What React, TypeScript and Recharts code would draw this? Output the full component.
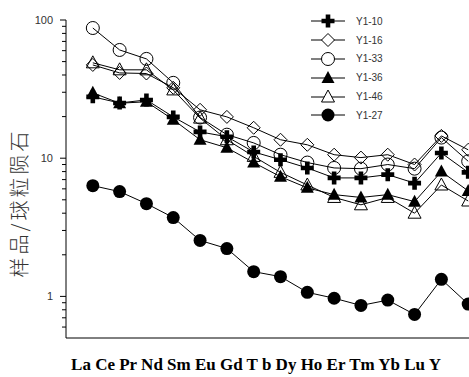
import { LineChart, Line, XAxis, YAxis, Legend, Label } from "recharts";

// chondrite-normalised REE values
const ELEMENTS = ["La", "Ce", "Pr", "Nd", "Sm", "Eu", "Gd", "T b", "Dy", "Ho", "Er", "Tm", "Yb", "Lu", "Y"];
const Y1_10 = [27.8, 25.1, 26.4, 19.9, 15.5, 14.3, 11.1, 9.75, 8.5, 7.2, 7.2, 7.6, 6.6, 10.9, 7.9];
const Y1_16 = [47.3, 41.4, 41.0, 32.3, 22.4, 19.9, 16.6, 13.6, 12.5, 10.6, 10.1, 10.6, 9.0, 14.5, 11.5];
const Y1_33 = [87.5, 60.7, 52.3, 35.1, 19.7, 14.8, 12.9, 10.6, 9.3, 8.5, 8.4, 9.0, 8.4, 14.1, 9.5];
const Y1_36 = [29.7, 25.0, 25.6, 19.0, 13.6, 11.9, 9.3, 7.35, 6.1, 5.45, 5.2, 5.45, 4.85, 8.0, 5.8];
const Y1_46 = [49.0, 43.6, 43.6, 31.2, 19.5, 13.6, 10.3, 7.9, 6.4, 5.2, 4.6, 5.2, 4.0, 6.4, 4.9];
const Y1_27 = [6.33, 5.73, 4.69, 3.72, 2.54, 2.22, 1.51, 1.39, 1.07, 0.97, 0.86, 0.94, 0.74, 1.33, 0.88];

const MAJOR = [1, 10, 100];
const MINOR = [0.6, 0.7, 0.8, 0.9, 2, 3, 4, 5, 6, 7, 8, 9, 20, 30, 40, 50, 60, 70, 80, 90];

type Kind = "plus" | "diamond" | "circle" | "tri" | "openTri" | "dot";

const SERIES: { key: string; name: string; kind: Kind; values: number[] }[] = [
  { key: "y110", name: "Y1-10", kind: "plus", values: Y1_10 },
  { key: "y116", name: "Y1-16", kind: "diamond", values: Y1_16 },
  { key: "y133", name: "Y1-33", kind: "circle", values: Y1_33 },
  { key: "y136", name: "Y1-36", kind: "tri", values: Y1_36 },
  { key: "y146", name: "Y1-46", kind: "openTri", values: Y1_46 },
  { key: "y127", name: "Y1-27", kind: "dot", values: Y1_27 },
];

const rows = ELEMENTS.map((el, i) => {
  const row: Record<string, number | string> = { x: i + 1, el };
  SERIES.forEach((s) => (row[s.key] = s.values[i]));
  return row;
});

const xTicks = [0, ...ELEMENTS.map((_, i) => i + 1)];
const yTicks = [...MINOR, ...MAJOR].sort((a, b) => a - b);

function Marker({ cx, cy, kind, fill = "none" }: { cx: number; cy: number; kind: Kind; fill?: string }) {
  const r = 6.5;
  switch (kind) {
    case "plus": {
      const a = 2.3;
      return (
        <path
          d={`M${cx - a},${cy - r}h${2 * a}v${r - a}h${r - a}v${2 * a}h${a - r}v${r - a}h${-2 * a}v${a - r}h${a - r}v${-2 * a}h${r - a}z`}
          fill="#000"
        />
      );
    }
    case "diamond":
      return <path d={`M${cx},${cy - r}L${cx + r},${cy}L${cx},${cy + r}L${cx - r},${cy}Z`} fill={fill} stroke="#000" />;
    case "circle":
      return <circle cx={cx} cy={cy} r={r} fill={fill} stroke="#000" />;
    case "tri":
      return <path d={`M${cx},${cy - 7}L${cx + 6.5},${cy + 5}L${cx - 6.5},${cy + 5}Z`} fill="#000" />;
    case "openTri":
      return <path d={`M${cx},${cy - 7}L${cx + 6.5},${cy + 5}L${cx - 6.5},${cy + 5}Z`} fill={fill} stroke="#000" />;
    default:
      return <circle cx={cx} cy={cy} r={r} fill="#000" />;
  }
}

function YTick(props: any) {
  const { x, y, payload } = props;
  const major = MAJOR.includes(payload.value);
  return (
    <g>
      <line x1={x} x2={x - (major ? 6 : 4)} y1={y} y2={y} stroke="#000" />
      {major && (
        <text x={x - 13} y={y} textAnchor="end" dominantBaseline="central" fontSize={11} fill="#333" fontFamily="Liberation Sans, Arial">
          {payload.value}
        </text>
      )}
    </g>
  );
}

function renderLegend() {
  return (
    <div style={{ fontFamily: "Liberation Sans, Arial", fontSize: 10, color: "#333" }}>
      {SERIES.map((s) => (
        <div key={s.key} style={{ display: "flex", alignItems: "center", height: 18.8 }}>
          <svg width={34} height={18} style={{ display: "block" }}>
            <line x1={0} x2={34} y1={9} y2={9} stroke="#000" />
            <Marker cx={17} cy={9} kind={s.kind} fill="#fff" />
          </svg>
          <span style={{ marginLeft: 11 }}>{s.name}</span>
        </div>
      ))}
    </div>
  );
}

export default function App() {
  return (
    <div style={{ position: "fixed", left: 0, top: 0, width: 469, height: 377, overflow: "hidden", background: "#fff" }}>
      <LineChart width={500} height={377} data={rows} margin={{ top: 20, right: 5, bottom: 0, left: 0 }}>
        <XAxis
          type="number"
          dataKey="x"
          domain={[0, 16]}
          ticks={xTicks}
          interval={0}
          tick={false}
          tickSize={6}
          height={39}
          stroke="#000"
        >
          <Label
            content={({ viewBox }: any) => (
              <text
                x={viewBox.x + 190}
                y={viewBox.y + 32}
                textAnchor="middle"
                fontFamily="Liberation Serif, Times New Roman"
                fontWeight="bold"
                fontSize={17}
                fill="#000"
              >
                {ELEMENTS.join(" ")}
              </text>
            )}
          />
        </XAxis>
        <YAxis
          type="number"
          scale="log"
          domain={[0.5, 100]}
          allowDataOverflow
          ticks={yTicks}
          interval={0}
          tick={<YTick />}
          tickLine={false}
          tickSize={0}
          tickMargin={0}
          width={66}
          stroke="#000"
        >
          <Label
            content={() => (
              <text
                x={18}
                y={203}
                transform="rotate(-90, 18, 203)"
                textAnchor="middle"
                dominantBaseline="central"
                fontFamily="Noto Sans CJK SC"
                fontWeight={300}
                fontSize={20}
                letterSpacing={3}
                fill="#333"
              >
                样品/球粒陨石
              </text>
            )}
          />
        </YAxis>
        <Legend
          layout="vertical"
          align="center"
          verticalAlign="middle"
          content={renderLegend}
          wrapperStyle={{ top: 12, left: 311, width: 120 }}
        />
        {SERIES.map((s) => (
          <Line
            key={s.key}
            dataKey={s.key}
            name={s.name}
            stroke="#000"
            strokeWidth={1}
            dot={(p: any) => <Marker key={`${s.key}-${p.index}`} cx={p.cx} cy={p.cy} kind={s.kind} />}
            activeDot={false}
            isAnimationActive={false}
          />
        ))}
      </LineChart>
    </div>
  );
}
